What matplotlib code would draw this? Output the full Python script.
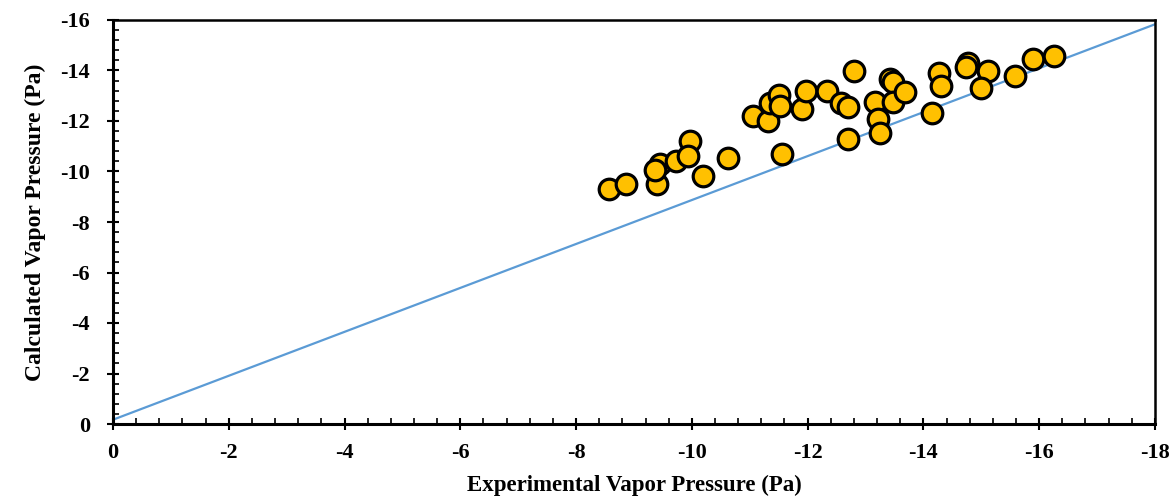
import matplotlib
matplotlib.use('agg')
import matplotlib.pyplot as plt
from matplotlib.ticker import MultipleLocator

# experimental vs calculated vapor pressure (Pa)
exp_vp = [-8.57, -8.87, -9.40, -9.45, -9.36, -9.73, -9.97, -9.94, -10.20, -10.63,
          -11.55, -11.05, -11.32, -11.35, -11.51, -11.52, -11.91, -11.98, -12.33, -12.58,
          -12.70, -12.80, -12.70, -13.16, -13.22, -13.25, -13.43, -13.47, -13.48, -13.68,
          -14.14, -14.27, -14.31, -14.77, -14.73, -15.12, -15.00, -15.58, -15.90, -16.25]
calc_vp = [-9.29, -9.52, -9.52, -10.28, -10.05, -10.41, -11.20, -10.61, -9.81, -10.54,
           -10.71, -12.20, -12.00, -12.70, -13.02, -12.59, -12.46, -13.19, -13.19, -12.72,
           -12.57, -13.98, -11.30, -12.75, -12.06, -11.54, -13.67, -13.55, -12.75, -13.16,
           -12.30, -13.91, -13.39, -14.31, -14.15, -13.98, -13.32, -13.78, -14.44, -14.58]

# trend line end points
line_x = [0, -18]
line_y = [-0.17, -15.83]

plt.rcParams['font.family'] = ['Liberation Serif', 'DejaVu Serif']
plt.rcParams['font.weight'] = 'bold'
plt.rcParams['axes.unicode_minus'] = False

fig = plt.figure(figsize=(11.76, 5.0), dpi=100)
ax = fig.add_axes([0.0961, 0.152, 0.886, 0.808])

ax.plot(line_x, line_y, color='#5B9BD5', linewidth=1.6, zorder=2)
ax.scatter(exp_vp, calc_vp, s=220, facecolor='#FFC000', edgecolor='black',
           linewidth=2.3, zorder=3)

ax.set_xlim(0, -18)
ax.set_ylim(0, -16)
ax.xaxis.set_major_locator(MultipleLocator(2))
ax.xaxis.set_minor_locator(MultipleLocator(0.4))
ax.yaxis.set_major_locator(MultipleLocator(2))
ax.yaxis.set_minor_locator(MultipleLocator(0.4))
ax.tick_params(which='major', direction='inout', length=9, width=1.5,
               labelsize=16)
ax.tick_params(axis='x', which='major', pad=9)
ax.tick_params(axis='y', which='major', pad=12)
ax.tick_params(which='minor', direction='in', length=4, width=1.2)
for lab in ax.get_xticklabels() + ax.get_yticklabels():
    lab.set_fontweight('bold')

for side in ['left', 'bottom']:
    ax.spines[side].set_linewidth(2.2)
for side in ['top', 'right']:
    ax.spines[side].set_linewidth(1.8)

ax.set_xlabel('Experimental Vapor Pressure (Pa)', fontsize=16.5, fontweight='bold', labelpad=9)
ax.set_ylabel('Calculated Vapor Pressure (Pa)', fontsize=17, fontweight='bold', labelpad=10)

fig.savefig('out.png', dpi=100)
